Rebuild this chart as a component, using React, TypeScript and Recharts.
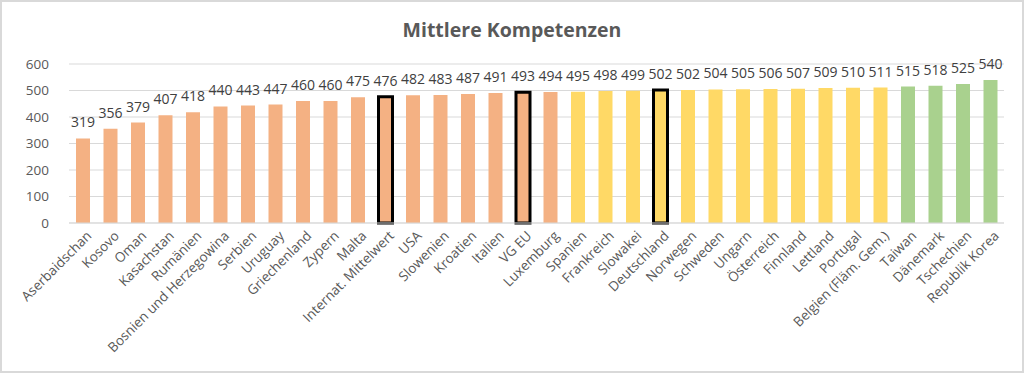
import { BarChart, Bar, XAxis, YAxis, CartesianGrid, Cell, LabelList } from "recharts";

const countries = [
  "Aserbaidschan", "Kosovo", "Oman", "Kasachstan", "Rumänien", "Bosnien und Herzegowina",
  "Serbien", "Uruguay", "Griechenland", "Zypern", "Malta", "Internat. Mittelwert", "USA",
  "Slowenien", "Kroatien", "Italien", "VG EU", "Luxemburg", "Spanien", "Frankreich",
  "Slowakei", "Deutschland", "Norwegen", "Schweden", "Ungarn", "Österreich", "Finnland",
  "Lettland", "Portugal", "Belgien (Fläm. Gem.)", "Taiwan", "Dänemark", "Tschechien",
  "Republik Korea",
];

const scores = [
  319, 356, 379, 407, 418, 440, 443, 447, 460, 460, 475, 476, 482, 483, 487, 491, 493,
  494, 495, 498, 499, 502, 502, 504, 505, 506, 507, 509, 510, 511, 515, 518, 525, 540,
];

// o = unter Durchschnitt, y = mittel, g = oben
const groups = [
  "o", "o", "o", "o", "o", "o", "o", "o", "o", "o", "o", "o", "o", "o", "o", "o", "o", "o",
  "y", "y", "y", "y", "y", "y", "y", "y", "y", "y", "y", "y",
  "g", "g", "g", "g",
];

const highlighted = ["Internat. Mittelwert", "VG EU", "Deutschland"];

const yTicks = [0, 100, 200, 300, 400, 500, 600];

const colors: Record<string, string> = { o: "#F4B183", y: "#FFD966", g: "#A9D18E" };

const font = "'Open Sans', sans-serif";

const data = countries.map((c, i) => ({ name: c, value: scores[i], group: groups[i] }));

function CountryTick(props: any) {
  const { x, y, payload } = props;
  return (
    <g transform={`translate(${x + 3},${y - 1})`}>
      <text
        transform="rotate(-45)"
        textAnchor="end"
        dy="0.7em"
        fontSize={13.5}
        fontFamily={font}
        fill="#595959"
      >
        {payload.value}
      </text>
    </g>
  );
}

export default function App() {
  return (
    <div
      style={{
        position: "fixed",
        left: 0,
        top: 0,
        width: 1024,
        height: 373,
        boxSizing: "border-box",
        border: "2px solid #d9d9d9",
        background: "#fff",
        fontFamily: font,
      }}
    >
      <div
        style={{
          position: "absolute",
          top: 14,
          width: "100%",
          textAlign: "center",
          fontSize: 19.5,
          fontWeight: 700,
          color: "#595959",
        }}
      >
        Mittlere Kompetenzen
      </div>
      <div style={{ position: "absolute", left: -2, top: -2 }}>
        <BarChart
          width={1024}
          height={373}
          data={data}
          barSize={14}
          margin={{ top: 64, right: 20, bottom: 0, left: 0 }}
        >
          <CartesianGrid vertical={false} stroke="#d9d9d9" />
          <XAxis
            dataKey="name"
            interval={0}
            tickLine={false}
            axisLine={{ stroke: "#d9d9d9" }}
            height={150}
            tick={<CountryTick />}
          />
          <YAxis
            domain={[0, 600]}
            ticks={yTicks}
            width={69}
            axisLine={false}
            tickLine={false}
            tickMargin={14}
            tick={{ fontSize: 13.5, fill: "#595959", fontFamily: font }}
          />
          <Bar dataKey="value" isAnimationActive={false}>
            {data.map((d) => (
              <Cell
                key={d.name}
                fill={colors[d.group]}
                stroke={highlighted.includes(d.name) ? "#000" : "none"}
                strokeWidth={highlighted.includes(d.name) ? 3 : 0}
              />
            ))}
            <LabelList
              dataKey="value"
              position="top"
              offset={11}
              fontSize={14}
              fill="#404040"
              fontFamily={font}
            />
          </Bar>
        </BarChart>
      </div>
    </div>
  );
}
